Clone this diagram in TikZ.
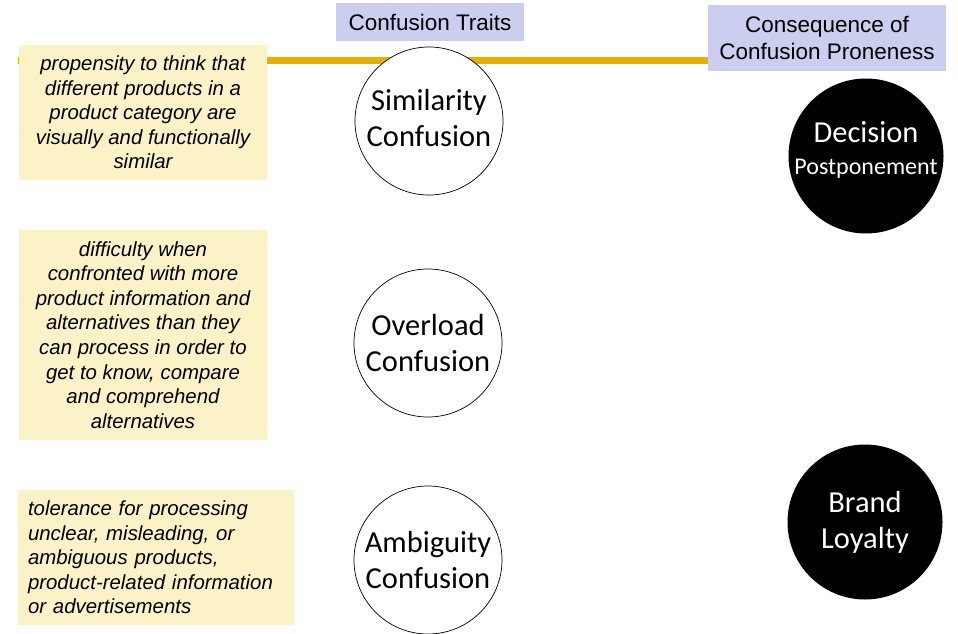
\documentclass[tikz,border=0pt]{standalone}
\usepackage{fontspec}
\setmainfont{Liberation Sans}
\newfontfamily\calib{Carlito}
\definecolor{noteyellow}{HTML}{FBF2C8}
\definecolor{headblue}{HTML}{CCCEEF}
\definecolor{barGold}{HTML}{E1B20C}
\begin{document}
\begin{tikzpicture}[x=1pt,y=-1pt,
  note/.style={fill=noteyellow,draw=none,inner sep=0pt,
    font=\fontsize{20.4}{24.6}\selectfont\itshape,align=center},
  header/.style={fill=headblue,draw=none,inner sep=0pt,
    font=\fontsize{22.5}{26.5}\selectfont,align=center},
  trait/.style={circle,draw=black,line width=0.7pt,fill=white,
    minimum size=148pt,inner sep=0pt,
    font=\calib\fontsize{30.5}{36}\selectfont,align=center},
  outcome/.style={circle,draw=none,fill=black,text=white,
    minimum size=155pt,inner sep=0pt,
    font=\calib\fontsize{30.5}{36}\selectfont,align=center},
  inlabel/.style={font=\calib\fontsize{30.5}{36}\selectfont,align=center,inner sep=0pt}]
\useasboundingbox (0,0) rectangle (958,634);

% gold rule under the headers
\coordinate (barL) at (18,60.5);
\coordinate (barR) at (710,60.5);
\draw[barGold,line width=6.5pt] (barL) -- (barR);

% headers
\node[header,minimum width=188pt,minimum height=38pt] (hTraits) at (430,22) {Confusion Traits};
\node[header,minimum width=238pt,minimum height=66pt] (hCons) at (827,38)
  {Consequence of\\Confusion Proneness};

% descriptions
\node[note,minimum width=248pt,minimum height=135pt] (d1) at (143,112.5)
  {propensity to think that\\different products in a\\product category are\\visually and functionally\\similar};
\node[note,minimum width=248pt,minimum height=210pt] (d2) at (143,335)
  {difficulty when\\confronted with more\\product information and\\alternatives than they\\can process in order to\\get to know, compare\\and comprehend\\alternatives};
\node[note,minimum width=276pt,minimum height=135pt,align=left,text width=256pt] (d3) at (156,557.5)
  {tolerance for processing\\unclear, misleading, or\\ambiguous products,\\product-related information\\or advertisements};

% confusion traits
\node[trait,label={[inlabel,yshift=3pt]center:Similarity\\Confusion}] (sim) at (429,121) {};
\node[trait] (ovl) at (428,343) {Overload\\Confusion};
\node[trait] (amb) at (428,560) {Ambiguity\\Confusion};

% consequences
\node[outcome,label={[inlabel,text=white,yshift=6pt]center:Decision\\[-4pt]{\fontsize{24}{28}\selectfont Postponement}}] (dec) at (866,156) {};
\node[outcome] (brand) at (865,522) {Brand\\Loyalty};
\end{tikzpicture}
\end{document}
